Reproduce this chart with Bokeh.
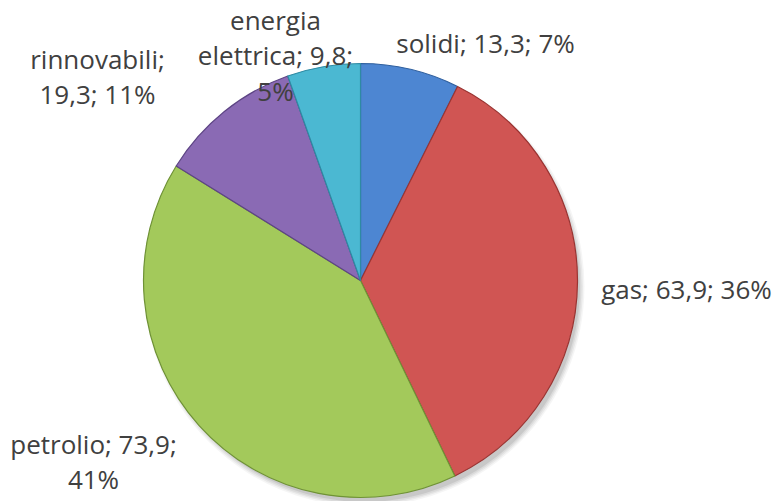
import math
import textwrap
from bokeh.plotting import figure
from bokeh.models import Range1d, ColumnDataSource
from bokeh.embed import file_html
from bokeh.resources import INLINE
from bokeh.core.properties import value

# ---- data ----
categories = ["solidi", "gas", "petrolio", "rinnovabili", "energia elettrica"]
values = [13.3, 63.9, 73.9, 19.3, 9.8]
percents = [7, 36, 41, 11, 5]

# ---- style / layout ----
colors = ["#4D86D2", "#D05553", "#A3C95B", "#8A6AB4", "#4BB8D2"]
edge_colors = ["#2F5F9E", "#9A3432", "#6F9236", "#5E4585", "#2E8AA3"]
W, H = 776, 501
CX, CY_PX, R = 360, 280, 217
wrap_width = [20, 20, 15, 15, 15]
# label block centres, pixel offsets from pie centre (dx right, dy down)
label_offset = [(125, -238), (326, 8), (-267, 181), (-263, -204), (-85, -225)]

total = sum(values)
cy = H - CY_PX
starts, ends, texts, lx, ly = [], [], [], [], []
cum = 0.0
for i, (c, v, pc) in enumerate(zip(categories, values, percents)):
    a0 = math.pi / 2 - 2 * math.pi * cum / total
    cum += v
    a1 = math.pi / 2 - 2 * math.pi * cum / total
    starts.append(a0)
    ends.append(a1)
    lab = f"{c}; {v:.1f}".replace(".", ",") + f"; {pc}%"
    texts.append("\n".join(textwrap.wrap(lab, wrap_width[i])))
    dx, dy = label_offset[i]
    lx.append(CX + dx)
    ly.append(cy - dy)

src = ColumnDataSource(dict(start=starts, end=ends, color=colors, edge=edge_colors,
                            cat=categories, val=values))
lsrc = ColumnDataSource(dict(x=lx, y=ly, text=texts))

p = figure(width=W, height=H, x_range=Range1d(0, W), y_range=Range1d(0, H),
           output_backend="svg", toolbar_location=None,
           x_axis_location=None, y_axis_location=None, min_border=0)
p.xgrid.visible = False
p.ygrid.visible = False
p.outline_line_color = None
p.background_fill_color = "white"
p.border_fill_color = "white"

# soft shadow
for k, al in enumerate([0.04, 0.05, 0.06, 0.08]):
    p.circle(x=CX + 4, y=cy - 6, radius=R + 3 - k * 1.5, fill_color="#000000",
             fill_alpha=al, line_color=None)

p.wedge(x=CX, y=cy, radius=R, start_angle="start", end_angle="end", direction="clock",
        fill_color="color", line_color="edge", line_width=1.2, source=src)

p.text(x="x", y="y", text="text", source=lsrc, text_font=value("Open Sans"),
       text_font_size="26px", text_color="#404040", text_align="center",
       text_baseline="middle", text_line_height=0.98)

open("out.html", "w").write(file_html(p, INLINE))
